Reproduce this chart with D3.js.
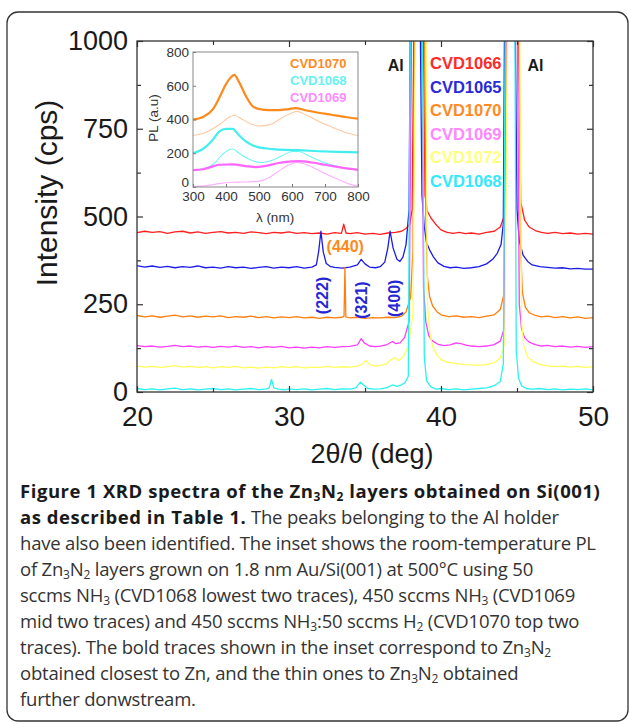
<!DOCTYPE html>
<html>
<head>
<meta charset="utf-8">
<script src="https://cdn.jsdelivr.net/npm/d3@7"></script>
<style>
  body { margin: 0; background: #fff; }
  svg { display: block; }
</style>
</head>
<body>
<svg id="fig" width="629" height="724"></svg>
<script>
// ---- XRD data, [2theta (deg), intensity (cps)] ----
const cvd1066 = [[20,454],[20.5,458],[21,455],[21.5,457],[22,452],[22.5,456],[23,458],[23.5,453],[24,456],[24.5,452],[25,455],[25.5,457],[26,453],[26.5,455],[27,452],[27.5,456],[28,454],[28.5,451],[29,455],[29.5,453],[30,456],[30.5,452],[31,454],[31.5,451],[32,453],[32.5,450],[33,454],[33.45,452],[33.6,478],[33.75,453],[34,451],[34.5,454],[35,450],[35.5,452],[36,449],[36.5,453],[37,455],[37.4,458],[37.7,466],[37.95,478],[38.1,520],[38.25,1200],[38.8,1200],[38.95,560],[39.1,515],[39.35,495],[39.65,478],[40,462],[40.4,455],[40.8,452],[41.2,455],[41.6,451],[42,453],[42.5,450],[43,455],[43.5,458],[43.9,470],[44.15,500],[44.35,1200],[45.05,1200],[45.25,540],[45.5,490],[45.8,470],[46.2,460],[46.6,455],[47,452],[47.5,455],[48,451],[48.5,453],[49,450],[49.5,452],[50,450]];
const cvd1065 = [[20,360],[20.5,356],[21,359],[21.5,355],[22,358],[22.5,354],[23,357],[23.5,355],[24,359],[24.5,354],[25,356],[25.5,353],[26,357],[26.5,354],[27,356],[27.5,352],[28,355],[28.5,357],[29,353],[29.5,356],[30,354],[30.5,357],[31,353],[31.5,356],[31.8,362],[31.95,400],[32.1,458],[32.25,400],[32.45,366],[32.7,358],[33,355],[33.5,353],[34,356],[34.5,362],[34.75,378],[35,365],[35.3,356],[35.7,354],[36,357],[36.3,370],[36.5,410],[36.65,458],[36.85,410],[37.1,378],[37.3,372],[37.5,385],[37.7,420],[37.9,520],[38.0,1200],[38.6,1200],[38.75,560],[38.9,470],[39.05,425],[39.25,405],[39.5,385],[39.8,368],[40.2,358],[40.6,354],[41,356],[41.5,352],[42,354],[42.5,357],[43,365],[43.4,378],[43.7,395],[43.95,420],[44.1,480],[44.2,1200],[44.85,1200],[45,520],[45.15,430],[45.4,390],[45.7,372],[46,362],[46.5,357],[47,355],[47.5,353],[48,354],[48.5,351],[49,352],[49.5,350],[50,350]];
const cvd1070 = [[20,218],[20.5,214],[21,217],[21.5,213],[22,216],[22.5,219],[23,214],[23.5,217],[24,213],[24.5,216],[25,214],[25.5,217],[26,212],[26.5,215],[27,213],[27.5,216],[28,212],[28.5,215],[29,211],[29.5,214],[30,212],[30.5,215],[31,211],[31.5,213],[32,210],[32.5,213],[33,211],[33.5,213],[33.62,216],[33.68,355],[33.74,214],[34,211],[34.5,213],[35,210],[35.5,212],[36,211],[36.5,213],[37,212],[37.4,216],[37.7,228],[38.0,270],[38.15,400],[38.3,1200],[38.9,1200],[39.0,500],[39.1,330],[39.25,272],[39.45,245],[39.75,228],[40,220],[40.5,215],[41,217],[41.5,213],[42,215],[42.5,212],[43,216],[43.5,220],[43.9,235],[44.15,280],[44.35,1200],[45.1,1200],[45.25,400],[45.35,285],[45.55,242],[45.8,226],[46.2,218],[46.6,214],[47,216],[47.5,212],[48,215],[48.5,211],[49,214],[49.5,210],[50,212]];
const cvd1069 = [[20,132],[20.5,129],[21,131],[21.5,128],[22,130],[22.5,133],[23,129],[23.5,131],[24,128],[24.5,130],[25,127],[25.5,130],[26,128],[26.5,131],[27,127],[27.5,129],[28,126],[28.5,129],[29,127],[29.5,130],[30,126],[30.5,128],[31,125],[31.5,128],[32,126],[32.5,129],[33,127],[33.5,129],[34,130],[34.5,134],[34.75,152],[34.95,140],[35.3,131],[35.7,129],[36,131],[36.4,134],[36.8,144],[37,138],[37.3,140],[37.6,155],[37.9,200],[38.1,1200],[38.7,1200],[38.85,300],[39.0,200],[39.2,160],[39.45,145],[39.8,136],[40.2,132],[40.6,134],[41,140],[41.3,138],[41.7,133],[42,131],[42.5,129],[43,131],[43.5,135],[43.9,145],[44.15,180],[44.3,1200],[45,1200],[45.15,250],[45.3,180],[45.5,155],[45.8,142],[46.2,135],[46.6,131],[47,133],[47.5,129],[48,131],[48.5,128],[49,130],[49.5,127],[50,129]];
const cvd1072 = [[20,74],[20.5,71],[21,73],[21.5,70],[22,72],[22.5,75],[23,71],[23.5,73],[24,70],[24.5,72],[25,69],[25.5,72],[26,70],[26.5,73],[27,69],[27.5,71],[28,68],[28.5,71],[29,69],[29.5,72],[30,70],[30.5,72],[31,69],[31.5,71],[32,70],[32.5,73],[33,70],[33.5,72],[34,71],[34.5,74],[34.85,80],[35.05,90],[35.3,78],[35.7,74],[36,76],[36.4,80],[36.7,92],[36.95,98],[37.2,90],[37.5,100],[37.85,130],[38.15,220],[38.35,1200],[39.0,1200],[39.1,260],[39.25,170],[39.45,130],[39.75,105],[40,92],[40.4,85],[40.8,82],[41.2,80],[41.6,78],[42,77],[42.5,76],[43,78],[43.5,84],[43.9,96],[44.2,140],[44.4,1200],[45.15,1200],[45.3,200],[45.45,130],[45.7,100],[46,88],[46.4,80],[46.8,76],[47.2,74],[47.6,72],[48,74],[48.5,71],[49,73],[49.5,70],[50,72]];
const cvd1068 = [[20,10],[20.5,7],[21,9],[21.5,6],[22,9],[22.5,11],[23,7],[23.5,9],[24,6],[24.5,8],[25,10],[25.5,7],[26,9],[26.5,6],[27,8],[27.5,10],[28,7],[28.5,9],[28.7,12],[28.85,36],[29,12],[29.3,8],[29.7,6],[30,9],[30.5,7],[31,9],[31.5,6],[32,8],[32.5,10],[33,7],[33.5,9],[34,8],[34.4,12],[34.7,28],[34.9,20],[35.2,10],[35.6,8],[36,9],[36.4,12],[36.8,20],[37.1,16],[37.4,20],[37.65,28],[37.85,45],[38.0,1200],[38.75,1200],[38.9,100],[39.05,32],[39.35,14],[39.7,8],[40,10],[40.5,7],[41,9],[41.5,6],[42,8],[42.5,10],[43,12],[43.5,18],[43.9,30],[44.1,80],[44.25,1200],[44.85,1200],[44.95,120],[45.1,40],[45.3,18],[45.6,10],[46,8],[46.5,10],[47,7],[47.5,9],[48,6],[48.5,8],[49,7],[49.5,9],[50,6]];

const seriesNames = ["CVD1066", "CVD1065", "CVD1070", "CVD1069", "CVD1072", "CVD1068"];
const seriesData = [cvd1066, cvd1065, cvd1070, cvd1069, cvd1072, cvd1068];
const lineColors = ["#ff1f1f", "#1c1ce8", "#ff7f0e", "#ff3dff", "#ffff5e", "#2af2f2"];
const labelColors = ["#ff2a2a", "#2a2ad8", "#ff8a24", "#ff88ff", "#ffff80", "#34e8ff"];

const thetaTicks = [20, 30, 40, 50];
const thetaMinor = [25, 35, 45];
const cpsTicks = [0, 250, 500, 750, 1000];
const cpsMinor = [125, 375, 625, 875];

// peak annotations: [label, 2theta, cps, rotated]
const peakLabels = [["(440)", 33.7, 400, false], ["(222)", 32.15, 275, true], ["(321)", 34.75, 262, true], ["(400)", 36.9, 267, true]];
const alPeaks = [38.4, 44.7];

// ---- PL inset data, [wavelength (nm), PL (a.u)] ----
const pl1070Bold = [[300,400],[330,415],[360,460],[380,530],[400,610],[415,650],[425,665],[440,620],[460,540],[480,480],[500,462],[530,455],[560,455],[590,462],[610,468],[640,455],[680,440],[720,428],[760,415],[800,405]];
const pl1070Thin = [[300,305],[340,325],[380,370],[410,415],[425,425],[450,400],[480,370],[510,362],[540,375],[570,410],[600,440],[615,448],[640,430],[680,390],[720,355],[760,325],[800,305]];
const pl1068Bold = [[300,200],[330,225],[360,280],[380,330],[400,345],[420,345],[440,305],[460,270],[480,248],[500,235],[540,225],[580,220],[620,218],[680,212],[740,208],[800,205]];
const pl1068Thin = [[300,100],[340,112],[370,150],[390,195],[420,225],[440,200],[460,175],[490,150],[510,145],[540,158],[570,185],[600,210],[620,210],[650,185],[690,150],[730,125],[770,108],[800,100]];
const pl1069Bold = [[300,100],[330,105],[360,122],[380,132],[420,134],[460,124],[490,118],[520,125],[560,142],[600,152],[620,153],[660,145],[700,132],[750,115],[800,102]];
const pl1069Thin = [[300,2],[340,8],[380,20],[420,28],[460,30],[500,35],[530,55],[560,95],[590,130],[615,145],[640,135],[670,110],[700,80],[740,45],[770,20],[800,5]];
const plSeries = [pl1070Thin, pl1070Bold, pl1068Thin, pl1068Bold, pl1069Thin, pl1069Bold];
const plColors = ["#ffc9a3", "#ff8a1c", "#6ff5f5", "#44eeee", "#ffb0ff", "#ff66ff"];
const plWidths = [1.1, 2.2, 1.1, 2.2, 1.1, 2.2];
const plNames = ["CVD1070", "CVD1068", "CVD1069"];
const plNameColors = ["#ff8a24", "#66f2f2", "#ff8cff"];
const lambdaTicks = [300, 400, 500, 600, 700, 800];
const plTicks = [0, 200, 400, 600, 800];

const captionLines = [
  [["Figure 1 XRD spectra of the Zn", "b"], ["3", "bs"], ["N", "b"], ["2", "bs"], [" layers obtained on Si(001)", "b"]],
  [["as described in Table 1.", "b"], [" The peaks belonging to the Al holder", ""]],
  [["have also been identified. The inset shows the room-temperature PL", ""]],
  [["of Zn", ""], ["3", "s"], ["N", ""], ["2", "s"], [" layers grown on 1.8 nm Au/Si(001) at 500\u00b0C using 50", ""]],
  [["sccms NH", ""], ["3", "s"], [" (CVD1068 lowest two traces), 450 sccms NH", ""], ["3", "s"], [" (CVD1069", ""]],
  [["mid two traces) and 450 sccms NH", ""], ["3", "s"], [":50 sccms H", ""], ["2", "s"], [" (CVD1070 top two", ""]],
  [["traces). The bold traces shown in the inset correspond to Zn", ""], ["3", "s"], ["N", ""], ["2", "s"]],
  [["obtained closest to Zn, and the thin ones to Zn", ""], ["3", "s"], ["N", ""], ["2", "s"], [" obtained", ""]],
  [["further donwstream.", ""]]
];

const svg = d3.select("#fig");
const font = "'Liberation Sans', Arial, sans-serif";

// outer figure frame
svg.append("rect")
  .attr("x", 7).attr("y", 12).attr("width", 621).attr("height", 709)
  .attr("rx", 11)
  .attr("fill", "none").attr("stroke", "#333").attr("stroke-width", 1.3);

// ---- main plot ----
const pLeft = 137, pRight = 593, pTop = 41, pBottom = 392;
const x = d3.scaleLinear().domain([20, 50]).range([pLeft, pRight]);
const y = d3.scaleLinear().domain([0, 1000]).range([pBottom, pTop]);

svg.append("clipPath").attr("id", "plotClip")
  .append("rect").attr("x", pLeft).attr("y", pTop).attr("width", pRight - pLeft).attr("height", pBottom - pTop);

const line = d3.line().x(d => x(d[0])).y(d => y(d[1]));
const curves = svg.append("g").attr("clip-path", "url(#plotClip)");
seriesData.forEach((s, i) => {
  curves.append("path")
    .datum(s)
    .attr("fill", "none")
    .attr("stroke", lineColors[i])
    .attr("stroke-width", 1.3)
    .attr("stroke-linejoin", "round")
    .attr("d", line);
});

function styleAxis(g, size) {
  g.select(".domain").remove();
  g.selectAll(".tick line").attr("stroke", "#333").attr("stroke-width", 1.2);
  g.selectAll("text").attr("font-family", font).attr("font-size", size).attr("fill", "#1a1a1a");
}

svg.append("g").attr("transform", `translate(0,${pBottom})`)
  .call(d3.axisBottom(x).tickValues(thetaTicks).tickSize(-6).tickPadding(14).tickFormat(d3.format("d")))
  .call(g => styleAxis(g, 28));
svg.append("g").attr("transform", `translate(0,${pBottom})`)
  .call(d3.axisBottom(x).tickValues(thetaMinor).tickSize(-4).tickFormat(""))
  .call(g => styleAxis(g, 28));
svg.append("g").attr("transform", `translate(0,${pTop})`)
  .call(d3.axisTop(x).tickValues(thetaTicks).tickSize(-6).tickFormat(""))
  .call(g => styleAxis(g, 28));
svg.append("g").attr("transform", `translate(0,${pTop})`)
  .call(d3.axisTop(x).tickValues(thetaMinor).tickSize(-4).tickFormat(""))
  .call(g => styleAxis(g, 28));
svg.append("g").attr("transform", `translate(${pLeft},0)`)
  .call(d3.axisLeft(y).tickValues(cpsTicks).tickSize(-6).tickPadding(9).tickFormat(d3.format("d")))
  .call(g => styleAxis(g, 27));
svg.append("g").attr("transform", `translate(${pLeft},0)`)
  .call(d3.axisLeft(y).tickValues(cpsMinor).tickSize(-4).tickFormat(""))
  .call(g => styleAxis(g, 27));
svg.append("g").attr("transform", `translate(${pRight},0)`)
  .call(d3.axisRight(y).tickValues(cpsTicks).tickSize(-6).tickFormat(""))
  .call(g => styleAxis(g, 27));
svg.append("g").attr("transform", `translate(${pRight},0)`)
  .call(d3.axisRight(y).tickValues(cpsMinor).tickSize(-4).tickFormat(""))
  .call(g => styleAxis(g, 27));

svg.append("rect")
  .attr("x", pLeft).attr("y", pTop).attr("width", pRight - pLeft).attr("height", pBottom - pTop)
  .attr("fill", "none").attr("stroke", "#333").attr("stroke-width", 1.3);

// axis titles
svg.append("text")
  .attr("transform", "translate(57,193) rotate(-90)")
  .attr("text-anchor", "middle")
  .attr("font-family", font).attr("font-size", 30).attr("fill", "#1a1a1a")
  .text("Intensity (cps)");
svg.append("text")
  .attr("x", 372).attr("y", 463)
  .attr("text-anchor", "middle")
  .attr("font-family", font).attr("font-size", 27).attr("fill", "#1a1a1a")
  .text("2\u03b8/\u03b8 (deg)");

// Al labels
alPeaks.forEach((p, i) => {
  svg.append("text")
    .attr("x", x(p) + (i === 0 ? -21 : 23)).attr("y", 71)
    .attr("text-anchor", "middle")
    .attr("font-family", font).attr("font-size", 16).attr("font-weight", "bold").attr("fill", "#1a1a1a")
    .text("Al");
});

// peak labels
peakLabels.forEach(([t, px, py, rot]) => {
  const c = rot ? "#2626d4" : "#ff8a1c";
  const tx = svg.append("text")
    .attr("text-anchor", "middle")
    .attr("font-family", font).attr("font-size", 16).attr("font-weight", "bold").attr("fill", c)
    .text(t);
  if (rot) tx.attr("transform", `translate(${x(px) + 6},${y(py)}) rotate(-90)`);
  else tx.attr("x", x(px)).attr("y", y(py));
});

// legend
seriesNames.forEach((n, i) => {
  svg.append("text")
    .attr("x", 430).attr("y", 69 + i * 23.6)
    .attr("font-family", font).attr("font-size", 16.5).attr("font-weight", "bold")
    .attr("fill", labelColors[i])
    .text(n);
});

// ---- PL inset ----
const ix = d3.scaleLinear().domain([300, 800]).range([193, 358]);
const iy = d3.scaleLinear().domain([0, 800]).range([187, 52]);
const inset = svg.append("g");
inset.append("rect")
  .attr("x", 193).attr("y", 52).attr("width", 165).attr("height", 135)
  .attr("fill", "#fff");
const iline = d3.line().x(d => ix(d[0])).y(d => iy(d[1])).curve(d3.curveMonotoneX);
plSeries.forEach((s, i) => {
  inset.append("path")
    .datum(s)
    .attr("fill", "none")
    .attr("stroke", plColors[i])
    .attr("stroke-width", plWidths[i])
    .attr("d", iline);
});
inset.append("g").attr("transform", "translate(0,187)")
  .call(d3.axisBottom(ix).tickValues(lambdaTicks).tickSize(-3).tickPadding(4))
  .call(g => {
    g.select(".domain").remove();
    g.selectAll(".tick line").attr("stroke", "#777");
    g.selectAll("text").attr("font-family", font).attr("font-size", 13.5).attr("fill", "#333");
  });
inset.append("g").attr("transform", "translate(193,0)")
  .call(d3.axisLeft(iy).tickValues(plTicks).tickSize(-3).tickPadding(4))
  .call(g => {
    g.select(".domain").remove();
    g.selectAll(".tick line").attr("stroke", "#777");
    g.selectAll("text").attr("font-family", font).attr("font-size", 13.5).attr("fill", "#333");
    g.selectAll(".tick").filter(d => d === 0).select("text").attr("dy", "-0.05em");
  });
inset.append("rect")
  .attr("x", 193).attr("y", 52).attr("width", 165).attr("height", 135)
  .attr("fill", "none").attr("stroke", "#888").attr("stroke-width", 1);
inset.append("text")
  .attr("x", 275).attr("y", 222).attr("text-anchor", "middle")
  .attr("font-family", font).attr("font-size", 13.5).attr("fill", "#333")
  .text("\u03bb (nm)");
inset.append("text")
  .attr("transform", "translate(158,118) rotate(-90)").attr("text-anchor", "middle")
  .attr("font-family", font).attr("font-size", 13.5).attr("fill", "#333")
  .text("PL (a.u)");
plNames.forEach((n, i) => {
  inset.append("text")
    .attr("x", 290).attr("y", 68 + i * 17)
    .attr("font-family", font).attr("font-size", 13).attr("font-weight", "bold")
    .attr("fill", plNameColors[i])
    .text(n);
});

// ---- caption ----
const cap = svg.append("g")
  .attr("font-family", "'Open Sans', 'Noto Sans', sans-serif")
  .attr("font-size", 18.5);
captionLines.forEach((segs, li) => {
  const t = cap.append("text").attr("x", 20).attr("y", 498 + li * 26);
  let shifted = false;
  segs.forEach(([str, fl]) => {
    const sub = fl.includes("s");
    const bold = fl.includes("b");
    const ts = t.append("tspan")
      .attr("font-weight", bold ? "bold" : "normal")
      .attr("letter-spacing", bold ? 0.55 : -0.2)
      .attr("fill", bold ? "#1a1a1a" : "#333")
      .text(str);
    if (sub && !shifted) { ts.attr("dy", 2.5).attr("font-size", 12); shifted = true; }
    else if (sub) ts.attr("font-size", 12);
    else if (shifted) { ts.attr("dy", -2.5); shifted = false; }
  });
});
</script>
</body>
</html>
